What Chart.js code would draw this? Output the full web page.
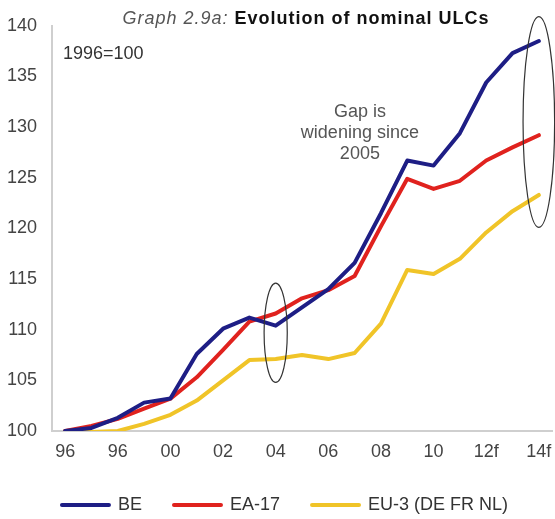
<!DOCTYPE html>
<html>
<head>
<meta charset="utf-8">
<script src="https://cdn.jsdelivr.net/npm/chart.js@4"></script>
<style>
  html, body { margin: 0; padding: 0; background: #fff; }
  #wrap { width: 555px; height: 519px; }
</style>
</head>
<body>
<div id="wrap"><canvas id="ulcChart" width="555" height="519"></canvas></div>
<script>
const years = ['1996', '1997', '1998', '1999', '2000', '2001', '2002', '2003', '2004', '2005',
               '2006', '2007', '2008', '2009', '2010', '2011', '2012', '2013', '2014'];
// labels shown under every second year (as printed, incl. the second "96")
const tickLabels = ['96', '96', '00', '02', '04', '06', '08', '10', '12f', '14f'];

const beValues  = [100, 100.3, 101.3, 102.8, 103.2, 107.6, 110.1, 111.2, 110.4, 112.2,
                   114.0, 116.6, 121.5, 126.7, 126.2, 129.4, 134.4, 137.3, 138.5];
const ea17Values = [100, 100.5, 101.2, 102.2, 103.2, 105.3, 108.0, 110.8, 111.6, 113.1,
                   113.9, 115.3, 120.2, 124.9, 123.9, 124.7, 126.7, 128.0, 129.2];
const eu3Values = [100, 99.9, 100, 100.7, 101.6, 103.0, 105.0, 107.0, 107.1, 107.5,
                   107.1, 107.7, 110.6, 115.9, 115.5, 117.0, 119.6, 121.7, 123.3];

const FONT = '"Liberation Sans", Arial, sans-serif';

// title, base note, "gap" comment and the two ellipses
const notesPlugin = {
    id: 'ulcNotes',
    afterLayout(chart, args, opts) {
        // nudge the legend row a little to the right, like the original
        chart.legend.left += opts.legendShift;
        chart.legend.right += opts.legendShift;
    },
    afterDraw(chart, args, opts) {
        const ctx = chart.ctx;
        const area = chart.chartArea;
        const xs = chart.scales.x;
        const ys = chart.scales.y;
        ctx.save();

        // title (the original is a bit wider than plain Arial)
        if ('letterSpacing' in ctx) ctx.letterSpacing = '1px';
        ctx.textBaseline = 'alphabetic';
        ctx.font = 'italic 18px ' + FONT;
        const part1 = 'Graph 2.9a: ';
        const w1 = ctx.measureText(part1).width;
        ctx.font = 'bold 18px ' + FONT;
        const part2 = 'Evolution of nominal ULCs';
        const w2 = ctx.measureText(part2).width;
        let tx = opts.titleCenter - (w1 + w2) / 2;
        ctx.font = 'italic 18px ' + FONT;
        ctx.fillStyle = '#555';
        ctx.textAlign = 'left';
        ctx.fillText(part1, tx, 23.5);
        ctx.font = 'bold 18px ' + FONT;
        ctx.fillStyle = '#111';
        ctx.fillText(part2, tx + w1, 23.5);
        if ('letterSpacing' in ctx) ctx.letterSpacing = '0px';

        // base year
        ctx.font = '18px ' + FONT;
        ctx.fillStyle = '#333';
        ctx.textBaseline = 'middle';
        ctx.fillText('1996=100', area.left + 11, 54);

        // comment
        ctx.fillStyle = '#555';
        ctx.textAlign = 'center';
        const cx = xs.getPixelForValue(opts.gap.x);
        let cy = ys.getPixelForValue(opts.gap.y);
        opts.gap.lines.forEach(line => {
            ctx.fillText(line, cx, cy);
            cy += 21;
        });

        // ellipses
        const step = xs.getPixelForValue(1) - xs.getPixelForValue(0);
        ctx.strokeStyle = '#333';
        ctx.lineWidth = 1.2;
        opts.ellipses.forEach(e => {
            const px = xs.getPixelForValue(e.x);
            const py = ys.getPixelForValue(e.y);
            const ry = Math.abs(ys.getPixelForValue(e.y + e.ry) - py);
            ctx.beginPath();
            ctx.ellipse(px, py, e.rx * step, ry, 0, 0, Math.PI * 2);
            ctx.stroke();
        });
        ctx.restore();
    }
};

const canvas = document.getElementById('ulcChart');

new Chart(canvas, {
    type: 'line',
    data: {
        labels: years,
        datasets: [
            { label: 'BE', data: beValues, borderColor: '#1e1e85', backgroundColor: '#1e1e85' },
            { label: 'EA-17', data: ea17Values, borderColor: '#e0221e', backgroundColor: '#e0221e' },
            { label: 'EU-3 (DE FR NL)', data: eu3Values, borderColor: '#f0c428', backgroundColor: '#f0c428' }
        ]
    },
    options: {
        responsive: false,
        animation: false,
        layout: { padding: { top: 13, right: 3, left: 0, bottom: -5 } },
        elements: {
            line: { borderWidth: 4, tension: 0, borderJoinStyle: 'round', borderCapStyle: 'round' },
            point: { radius: 0, hoverRadius: 0 }
        },
        plugins: {
            tooltip: { enabled: false },
            legend: {
                position: 'bottom',
                align: 'center',
                labels: {
                    boxWidth: 47,
                    boxHeight: 0,
                    padding: 32,
                    color: '#333',
                    font: { family: FONT, size: 18 }
                }
            },
            ulcNotes: {
                titleCenter: 306,
                legendShift: 9,
                gap: { x: 11.2, y: 131.5, lines: ['Gap is', 'widening since', '2005'] },
                ellipses: [
                    { x: 8, y: 109.7, rx: 0.44, ry: 4.9 },
                    { x: 18, y: 130.5, rx: 0.6, ry: 10.4 }
                ]
            }
        },
        scales: {
            x: {
                offset: true,
                grid: { drawOnChartArea: false, drawTicks: false },
                border: { display: true, color: '#cfcfcf', width: 2 },
                ticks: {
                    autoSkip: false,
                    maxRotation: 0,
                    padding: 10,
                    color: '#444',
                    font: { family: FONT, size: 18 },
                    callback: (value, index) => index % 2 === 0 ? tickLabels[index / 2] : ''
                },
                afterFit: scale => {
                    scale.height = 33;
                    scale.paddingLeft = 0;
                    scale.paddingRight = 0;
                }
            },
            y: {
                min: 100,
                max: 140,
                grid: { drawOnChartArea: false, drawTicks: false },
                border: { display: true, color: '#cfcfcf', width: 2 },
                ticks: {
                    stepSize: 5,
                    padding: 15,
                    color: '#444',
                    font: { family: FONT, size: 18 }
                },
                afterFit: scale => { scale.width = 52; }
            }
        }
    },
    plugins: [notesPlugin]
});
</script>
</body>
</html>
